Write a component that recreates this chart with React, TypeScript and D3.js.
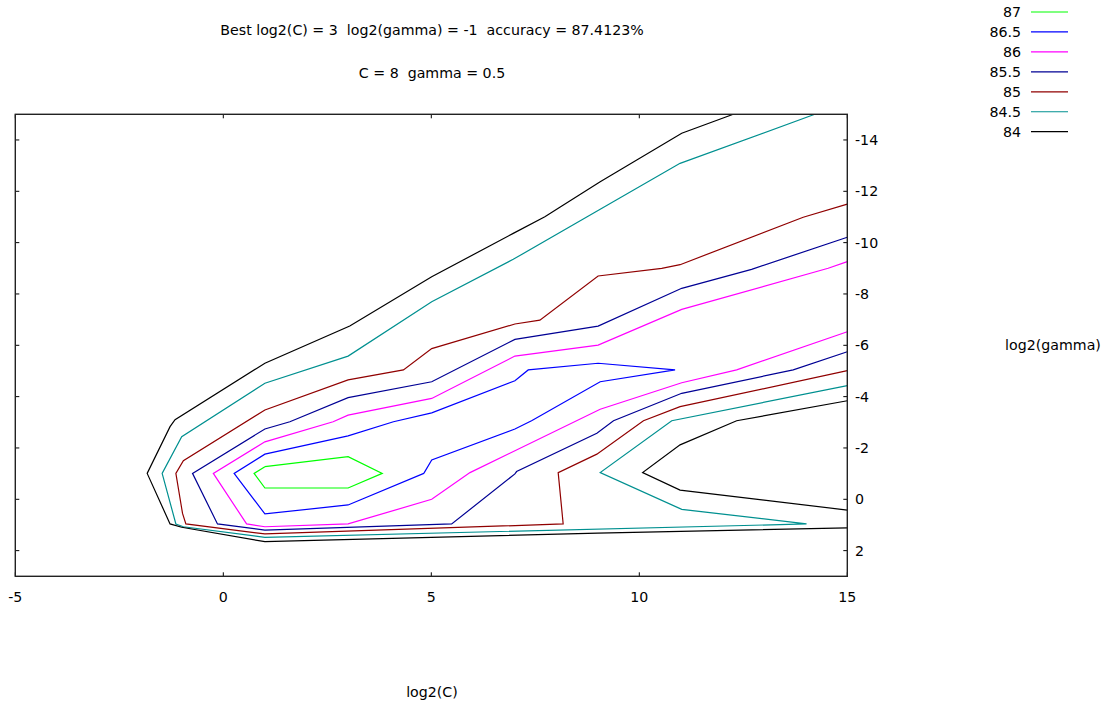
import React from "react";
import * as d3 from "d3";

// contour levels (legend order) and colours
const levels = ["87", "86.5", "86", "85.5", "85", "84.5", "84"];
const levelColors = ["#00ff00", "#0000ff", "#ff00ff", "#000094", "#900000", "#009090", "#000000"];

const xTicks = [-5, 0, 5, 10, 15];
const yTicks = [-14, -12, -10, -8, -6, -4, -2, 0, 2];

// contour polylines as [log2(C), log2(gamma)] points
const c87: [number, number][][] = [
  [[1.0, -1.27], [3.0, -1.66], [3.82, -1.01], [3.0, -0.44], [1.0, -0.44], [0.74, -1.01], [1.0, -1.27]],
];
const c865: [number, number][][] = [
  [[4.82, -1.01], [5.01, -1.53], [7.01, -2.74], [7.41, -3.06], [9.06, -4.58], [10.86, -5.04], [9.01, -5.3],
   [7.33, -5.04], [7.01, -4.62], [5.01, -3.37], [4.09, -3.02], [3.0, -2.47], [1.0, -1.76], [0.26, -1.01],
   [1.0, 0.57], [3.0, 0.22], [4.82, -1.01]],
];
const c86: [number, number][][] = [
  [[15.0, -9.26], [14.54, -9.0], [11.02, -7.4], [9.01, -6.01], [7.01, -5.58], [5.01, -3.93], [3.0, -3.28],
   [2.64, -3.02], [1.0, -2.24], [-0.24, -1.01], [0.56, 0.96], [1.0, 1.07], [3.0, 0.96], [5.01, 0.0],
   [5.93, -1.04], [9.06, -3.51], [11.02, -4.54], [12.34, -5.04], [15.0, -6.53]],
];
const c855: [number, number][][] = [
  [[15.0, -10.21], [12.7, -8.96], [11.02, -8.22], [9.01, -6.75], [7.01, -6.23], [5.01, -4.58], [3.0, -3.96],
   [1.6, -3.02], [1.0, -2.74], [-0.74, -1.01], [-0.14, 0.96], [1.0, 1.2], [5.49, 0.96], [7.01, -0.99],
   [7.05, -1.08], [8.98, -2.57], [9.38, -3.06], [11.02, -4.13], [13.7, -5.04], [15.0, -5.75]],
];
const c85: [number, number][][] = [
  [[15.0, -11.5], [13.94, -10.99], [10.98, -9.14], [10.54, -9.0], [9.01, -8.7], [7.61, -6.98], [7.01, -6.83],
   [5.01, -5.87], [4.33, -5.04], [3.0, -4.65], [1.0, -3.48], [-0.96, -1.5], [-1.14, -1.01], [-0.98, 0.55],
   [-0.9, 0.96], [1.0, 1.35], [8.17, 0.96], [8.05, -1.04], [8.98, -1.76], [10.1, -3.06], [10.98, -3.61],
   [15.0, -5.01]],
];
const c845: [number, number][][] = [
  [[14.22, -15.0], [10.98, -13.09], [9.06, -11.3], [6.97, -9.35], [5.01, -7.7], [3.0, -5.58], [1.0, -4.52],
   [-1.0, -2.44], [-1.47, -1.01], [-1.14, 0.96], [-0.96, 1.07], [1.0, 1.48], [14.02, 0.96], [11.02, 0.39],
   [9.06, -1.04], [10.78, -3.06], [15.0, -4.43]],
];
const c84: [number, number][][] = [
  [[12.26, -15.0], [11.02, -14.26], [9.06, -12.37], [8.09, -11.38], [7.73, -11.01], [6.97, -10.36],
   [5.01, -8.67], [3.04, -6.75], [1.0, -5.3], [0.8, -5.1], [-1.16, -3.1], [-1.28, -2.83], [-1.83, -1.01],
   [-1.28, 0.96], [-1.0, 1.09], [1.0, 1.65], [9.0, 1.32], [15.0, 1.11]],
  [[15.0, -3.84], [12.34, -3.06], [10.98, -2.12], [10.08, -1.04], [10.98, -0.36], [15.0, 0.42]],
];
const contours = [c87, c865, c86, c855, c85, c845, c84];

const titleLine1 = "Best log2(C) = 3  log2(gamma) = -1  accuracy = 87.4123%";
const titleLine2 = "C = 8  gamma = 0.5";
const xLabel = "log2(C)";
const yLabel = "log2(gamma)";

export default function App() {
  const W = 1109, H = 709;
  const L = 15.3, R = 847.3, T = 114.3, B = 576.3;
  const x = d3.scaleLinear().domain([-5, 15]).range([L, R]);
  const y = d3.scaleLinear().domain([-15, 3]).range([T, B]);
  const line = d3.line<[number, number]>().x((d) => x(d[0])).y((d) => y(d[1]));
  const font = "'DejaVu Sans', sans-serif";
  const fs = 14.2;
  const tick = 4;
  return (
    <svg width={W} height={H} style={{ position: "absolute", left: 0, top: 0, background: "#fff" }}
      fontFamily={font} fontSize={fs}>
      <rect x={0} y={0} width={W} height={H} fill="#fff" />
      <text x={432} y={30} textAnchor="middle" dominantBaseline="central" style={{ whiteSpace: "pre" }}>{titleLine1}</text>
      <text x={432} y={73} textAnchor="middle" dominantBaseline="central" style={{ whiteSpace: "pre" }}>{titleLine2}</text>
      <defs>
        <clipPath id="plotclip"><rect x={L} y={T} width={R - L} height={B - T} /></clipPath>
      </defs>
      <g clipPath="url(#plotclip)">
        {contours.map((segs, i) =>
          segs.map((s, j) => (
            <path key={`${i}-${j}`} d={line(s) || ""} fill="none" stroke={levelColors[i]} strokeWidth={1.2} strokeLinejoin="miter" />
          ))
        )}
      </g>
      {/* ticks */}
      {xTicks.map((t) => (
        <g key={`xt${t}`}>
          <line x1={x(t)} x2={x(t)} y1={B} y2={B - tick} stroke="#000" strokeWidth={1} />
          <line x1={x(t)} x2={x(t)} y1={T} y2={T + tick} stroke="#000" strokeWidth={1} />
          <text x={x(t)} y={597} textAnchor="middle" dominantBaseline="central">{t}</text>
        </g>
      ))}
      {yTicks.map((t) => (
        <g key={`yt${t}`}>
          <line x1={L} x2={L + tick} y1={y(t)} y2={y(t)} stroke="#000" strokeWidth={1} />
          <line x1={R} x2={R - tick} y1={y(t)} y2={y(t)} stroke="#000" strokeWidth={1} />
          <text x={855} y={y(t)} textAnchor="start" dominantBaseline="central">{t}</text>
        </g>
      ))}
      <rect x={L} y={T} width={R - L} height={B - T} fill="none" stroke="#222" strokeWidth={1.4} />
      <text x={432} y={692} textAnchor="middle" dominantBaseline="central">{xLabel}</text>
      <text x={1053} y={345} textAnchor="middle" dominantBaseline="central">{yLabel}</text>
      {levels.map((lv, i) => (
        <g key={`lg${lv}`}>
          <text x={1021} y={12 + i * 19.95} textAnchor="end" dominantBaseline="central">{lv}</text>
          <line x1={1031} x2={1068} y1={12 + i * 19.95} y2={12 + i * 19.95} stroke={levelColors[i]} strokeWidth={1.2} />
        </g>
      ))}
    </svg>
  );
}
